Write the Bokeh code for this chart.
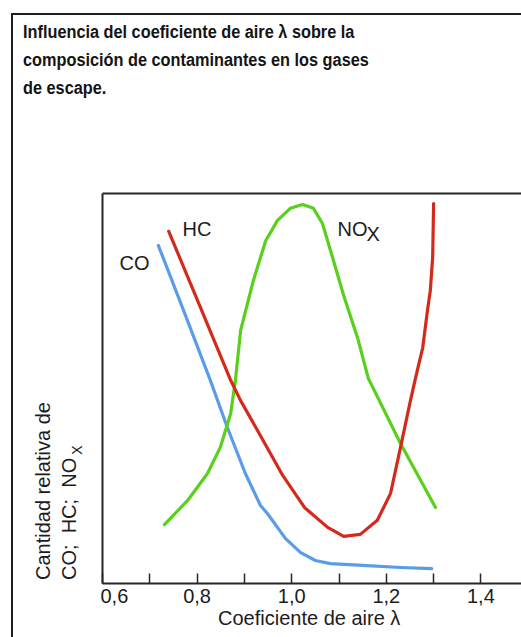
from bokeh.plotting import figure
from bokeh.models import Label, LinearAxis, FixedTicker, Range1d, CustomJSTickFormatter, Div
from bokeh.layouts import column, row
from bokeh.embed import file_html
from bokeh.resources import INLINE

# ---- data ----
co_lambda = [0.718, 0.773, 0.828, 0.864, 0.902, 0.934, 0.949, 0.987, 1.019, 1.050, 1.082, 1.160, 1.230, 1.296]
co_rel = [0.867, 0.695, 0.521, 0.400, 0.282, 0.200, 0.179, 0.115, 0.079, 0.059, 0.051, 0.046, 0.041, 0.038]

hc_lambda = [0.740, 0.807, 0.871, 0.892, 0.934, 0.981, 1.027, 1.076, 1.110, 1.145, 1.181, 1.209, 1.230, 1.251,
             1.262, 1.277, 1.287, 1.293, 1.298, 1.300]
hc_rel = [0.903, 0.708, 0.521, 0.469, 0.379, 0.277, 0.195, 0.144, 0.121, 0.126, 0.162, 0.231, 0.349, 0.469,
          0.528, 0.605, 0.700, 0.751, 0.836, 0.974]

nox_lambda = [0.731, 0.780, 0.822, 0.849, 0.871, 0.881, 0.892, 0.919, 0.945, 0.970, 0.997, 1.023, 1.046, 1.065,
              1.082, 1.110, 1.139, 1.162, 1.230, 1.304]
nox_rel = [0.151, 0.213, 0.282, 0.349, 0.436, 0.521, 0.649, 0.777, 0.879, 0.931, 0.962, 0.972, 0.962, 0.923,
           0.854, 0.738, 0.631, 0.526, 0.359, 0.195]

x_ticks = [0.6, 0.8, 1.0, 1.2, 1.4]
x_tick_labels = ["0,6", "0,8", "1,0", "1,2", "1,4"]
x_minor_ticks = [0.7, 0.9, 1.1, 1.3]

title_lines = ["Influencia del coeficiente de aire \u03bb sobre la",
               "composici\u00f3n de contaminantes en los gases",
               "de escape."]
x_title = "Coeficiente de aire  \u03bb"
y_title_1 = "Cantidad relativa de"
y_title_2 = "CO;&nbsp; HC;&nbsp; NO"
y_title_sub = "X"

FONT = "Liberation Sans"
TXT = "#1c1c1c"
AX = "#262626"

# ---- title (HTML text) ----
title_html = (
    '<div style="position:relative; width:508px; height:110px;">'
    '<div style="position:absolute; left:10px; top:3px; font-family:\'Liberation Sans\'; '
    'font-weight:bold; font-size:18px; line-height:28px; color:#141414; white-space:nowrap; '
    'transform-origin:0 0; transform:scaleX(0.905);">'
    + "<br>".join(title_lines) +
    '</div></div>'
)
title_div = Div(text=title_html, width=508, height=110, margin=0)

# ---- vertical y-axis title (HTML text rotated) ----
ylab_html = (
    '<div style="position:relative; width:87px; height:512px; overflow:visible;">'
    '<div style="position:absolute; left:0; top:0; width:512px; height:87px; '
    'transform-origin:0 0; transform:translate(0px,512px) rotate(-90deg);">'
    '<div style="position:absolute; left:57px; top:17px; font-family:\'Liberation Sans\'; '
    'font-size:20px; line-height:26px; color:#1c1c1c; white-space:nowrap;">'
    + y_title_1 + '<br>' + y_title_2 +
    '<span style="font-size:14px; position:relative; top:6px; margin-left:3px;">' + y_title_sub + '</span>'
    '</div></div></div>'
)
ylab_div = Div(text=ylab_html, width=87, height=512, margin=0)

# ---- plot ----
p = figure(width=421, height=512, x_range=Range1d(0.6, 1.4858), y_range=Range1d(0, 1),
           output_backend="svg", toolbar_location=None, margin=0,
           min_border_left=2, min_border_top=68, min_border_bottom=54, min_border_right=0)
p.outline_line_color = None
p.grid.visible = False
p.background_fill_color = "white"
p.border_fill_color = "white"

xa = p.xaxis[0]
xa.ticker = FixedTicker(ticks=x_ticks, minor_ticks=x_minor_ticks)
xa.formatter = CustomJSTickFormatter(args=dict(tvals=x_ticks, tlabels=x_tick_labels), code="""
let best = 0; let d = Infinity;
for (let i = 0; i < tvals.length; i++) { const dd = Math.abs(tvals[i] - tick); if (dd < d) { d = dd; best = i; } }
return tlabels[best];
""")
xa.axis_line_color = AX
xa.axis_line_width = 2
xa.major_tick_in = 10
xa.major_tick_out = 0
xa.minor_tick_in = 10
xa.minor_tick_out = 0
xa.major_tick_line_color = AX
xa.minor_tick_line_color = AX
xa.major_tick_line_width = 1.5
xa.minor_tick_line_width = 1.5
xa.major_label_text_font = FONT
xa.major_label_text_font_size = "20px"
xa.major_label_text_color = TXT
xa.major_label_standoff = 5
xa.axis_label = x_title
xa.axis_label_text_font = FONT
xa.axis_label_text_font_size = "20px"
xa.axis_label_text_font_style = "normal"
xa.axis_label_text_color = TXT
xa.axis_label_standoff = 1

ya = p.yaxis[0]
ya.ticker = FixedTicker(ticks=[])
ya.axis_line_color = AX
ya.axis_line_width = 2
ya.major_tick_in = 0
ya.major_tick_out = 0
ya.minor_tick_in = 0
ya.minor_tick_out = 0
ya.major_label_text_font_size = "0px"

ta = LinearAxis(ticker=FixedTicker(ticks=[]), axis_line_color=AX, axis_line_width=2,
                major_tick_in=0, major_tick_out=0, minor_tick_in=0, minor_tick_out=0,
                major_label_text_font_size="0px")
p.add_layout(ta, "above")

p.line(co_lambda, co_rel, line_color="#5b9ce6", line_width=3.2, line_join="round", line_cap="round")
p.line(nox_lambda, nox_rel, line_color="#58d01c", line_width=3.2, line_join="round", line_cap="round")
p.line(hc_lambda, hc_rel, line_color="#d42a1c", line_width=3.2, line_join="round", line_cap="round")

def lab(x, y, text, size="20px"):
    p.add_layout(Label(x=x, y=y, text=text, text_font=FONT, text_font_size=size,
                       text_color=TXT, text_align="left", text_baseline="alphabetic"))

lab(0.636, 0.823, "CO")
lab(0.769, 0.910, "HC")
lab(1.0968, 0.910, "NO")
lab(1.158, 0.897, "X")

layout = column(title_div, row(ylab_div, p, margin=0), margin=(13, 0, 0, 11),
                styles={"border-left": "2px solid #1e1e1e", "border-top": "2px solid #1e1e1e"})

open("out.html", "w").write(file_html(layout, INLINE))
